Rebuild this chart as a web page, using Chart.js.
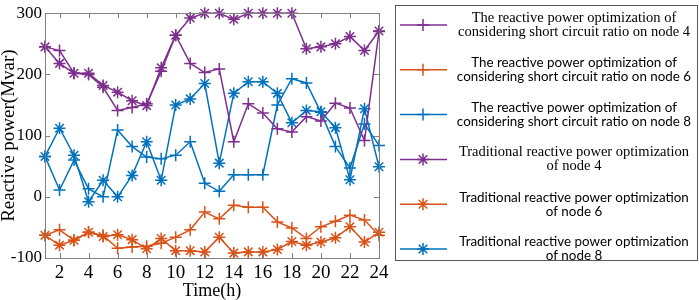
<!DOCTYPE html>
<html>
<head>
<meta charset="utf-8">
<script src="https://cdn.jsdelivr.net/npm/chart.js@4/dist/chart.umd.min.js"></script>
<style>
  html, body { margin: 0; padding: 0; background: #fff; }
  #wrap { width: 699px; height: 300px; }
</style>
</head>
<body>
<div id="wrap"><canvas id="qChart" width="699" height="300"></canvas></div>
<script>
// ==========================================
// Data
// ==========================================
const hours = [1, 2, 3, 4, 5, 6, 7, 8, 9, 10, 11, 12, 13, 14, 15, 16, 17, 18, 19, 20, 21, 22, 23, 24];
const xTickValues = [2, 4, 6, 8, 10, 12, 14, 16, 18, 20, 22, 24];
const yTickValues = [-100, 0, 100, 200, 300];

const scrNode4 = [245, 239, 202, 200, 179, 141, 146, 152, 205, 264, 218, 203, 209, 90, 152, 137, 111, 106, 131, 124, 153, 145, 92, 270];
const scrNode6 = [-63, -54, -71, -58, -63, -84, -82, -81, -76, -66, -54, -25, -36, -14, -17, -17, -41, -51, -68, -49, -40, -30, -38, -63];
const scrNode8 = [66, 11, 60, 13, 0, 109, 82, 65, 62, 68, 90, 22, 9, 36, 36, 36, 150, 193, 186, 138, 82, 47, 119, 84];
const tradNode4 = [245, 218, 202, 202, 182, 171, 157, 149, 211, 264, 292, 300, 300, 290, 300, 300, 300, 300, 242, 245, 250, 262, 239, 271];
const tradNode6 = [-63, -79, -71, -58, -65, -62, -70, -85, -68, -88, -88, -90, -66, -92, -90, -90, -86, -73, -79, -74, -67, -49, -74, -58];
const tradNode8 = [66, 112, 68, -8, 27, 0, 35, 90, 27, 150, 160, 185, 55, 169, 188, 188, 169, 121, 141, 139, 113, 28, 144, 49];

const seriesLabels = [
    ['The reactive power optimization of', 'considering short circuit ratio on node 4'],
    ['The reactive power optimization of', 'considering short circuit ratio on node 6'],
    ['The reactive power optimization of', 'considering short circuit ratio on node 8'],
    ['Traditional reactive power optimization', 'of node 4'],
    ['Traditional reactive power optimization', 'of node 6'],
    ['Traditional reactive power optimization', 'of node 8']
];

// ==========================================
// Style
// ==========================================
const COLORS = {
    purple: '#7E2F8E',
    orange: '#D95319',
    blue: '#0072BD',
    axis: '#808080',
    box: '#595959'
};
const SERIF = "'Liberation Serif', 'Times New Roman', serif";
const SANS = "Lato, 'Open Sans', sans-serif";

function pts(values) {
    return hours.map((h, i) => ({ x: h, y: values[i] }));
}

function series(label, values, color, marker) {
    return {
        label: label.join(' '),
        data: pts(values),
        borderColor: color,
        backgroundColor: color,
        borderWidth: 1.5,
        pointStyle: marker,
        pointRadius: 6,
        pointBorderWidth: 1.5,
        pointBorderColor: color,
        fill: false,
        tension: 0,
        clip: false
    };
}

// ==========================================
// Plugins: plot frame with inward ticks, custom legend
// ==========================================
const framePlugin = {
    id: 'frame',
    afterDatasetsDraw(chart) {
        const { ctx, chartArea: a, scales } = chart;
        const tl = 5;
        ctx.save();
        ctx.strokeStyle = COLORS.axis;
        ctx.lineWidth = 1;
        ctx.strokeRect(Math.round(a.left) + 0.5, Math.round(a.top) + 0.5,
            Math.round(a.right - a.left), Math.round(a.bottom - a.top));
        ctx.beginPath();
        xTickValues.forEach(v => {
            const px = Math.round(scales.x.getPixelForValue(v)) + 0.5;
            ctx.moveTo(px, a.bottom); ctx.lineTo(px, a.bottom - tl);
            ctx.moveTo(px, a.top); ctx.lineTo(px, a.top + tl);
        });
        yTickValues.forEach(v => {
            const py = Math.round(scales.y.getPixelForValue(v)) + 0.5;
            ctx.moveTo(a.left, py); ctx.lineTo(a.left + tl, py);
            ctx.moveTo(a.right, py); ctx.lineTo(a.right - tl, py);
        });
        ctx.stroke();
        ctx.restore();
    }
};

function drawMarker(ctx, style, x, y, r) {
    ctx.beginPath();
    ctx.moveTo(x - r, y); ctx.lineTo(x + r, y);
    ctx.moveTo(x, y - r); ctx.lineTo(x, y + r);
    if (style === 'star') {
        const d = r * Math.SQRT1_2;
        ctx.moveTo(x - d, y - d); ctx.lineTo(x + d, y + d);
        ctx.moveTo(x - d, y + d); ctx.lineTo(x + d, y - d);
    }
    ctx.stroke();
}

const legendPlugin = {
    id: 'sideLegend',
    afterDraw(chart) {
        const ctx = chart.ctx;
        const box = { x: 395.5, y: 5.5, w: 302, h: 255 };
        ctx.save();
        ctx.strokeStyle = COLORS.box;
        ctx.lineWidth = 1;
        ctx.strokeRect(box.x, box.y, box.w, box.h);
        chart.data.datasets.forEach((ds, i) => {
            const cy = 25 + i * 44.8;
            ctx.strokeStyle = ds.borderColor;
            ctx.lineWidth = 1.5;
            ctx.beginPath();
            ctx.moveTo(400, cy); ctx.lineTo(447, cy);
            ctx.stroke();
            drawMarker(ctx, ds.pointStyle, 423, cy, 6);
            const serif = (i === 0 || i === 3);
            ctx.font = serif ? `14.5px ${SERIF}` : `13.4px ${SANS}`;
            ctx.fillStyle = '#000';
            ctx.textAlign = 'center';
            ctx.textBaseline = 'middle';
            seriesLabels[i].forEach((line, k) => {
                ctx.fillText(line, 574, cy - 7 + k * 14);
            });
        });
        ctx.restore();
    }
};

// ==========================================
// Chart
// ==========================================
const ctx = document.getElementById('qChart').getContext('2d');
new Chart(ctx, {
    type: 'line',
    data: {
        datasets: [
            series(seriesLabels[0], scrNode4, COLORS.purple, 'cross'),
            series(seriesLabels[1], scrNode6, COLORS.orange, 'cross'),
            series(seriesLabels[2], scrNode8, COLORS.blue, 'cross'),
            series(seriesLabels[3], tradNode4, COLORS.purple, 'star'),
            series(seriesLabels[4], tradNode6, COLORS.orange, 'star'),
            series(seriesLabels[5], tradNode8, COLORS.blue, 'star')
        ]
    },
    options: {
        responsive: false,
        animation: false,
        layout: { padding: { top: 5, right: 320, left: 0, bottom: 0 } },
        scales: {
            x: {
                type: 'linear', min: 1, max: 24,
                afterBuildTicks: s => { s.ticks = xTickValues.map(v => ({ value: v })); },
                afterFit: s => { s.height = 42; },
                grid: { display: false, drawTicks: false },
                border: { display: false },
                ticks: { padding: 4, color: '#000', font: { family: SERIF, size: 19 }, maxRotation: 0, autoSkip: false },
                title: { display: true, text: 'Time(h)', color: '#000', padding: 0, font: { family: SERIF, size: 18, lineHeight: 1 } }
            },
            y: {
                min: -100, max: 300,
                afterBuildTicks: s => { s.ticks = yTickValues.map(v => ({ value: v })); },
                afterFit: s => { s.width = 45; },
                grid: { display: false, drawTicks: false },
                border: { display: false },
                ticks: { padding: 3, color: '#000', font: { family: SERIF, size: 17 } },
                title: { display: true, text: 'Reactive power(Mvar)', color: '#000', padding: 0, font: { family: SERIF, size: 19, lineHeight: 1 } }
            }
        },
        plugins: {
            legend: { display: false },
            tooltip: { enabled: false }
        }
    },
    plugins: [framePlugin, legendPlugin]
});
</script>
</body>
</html>
